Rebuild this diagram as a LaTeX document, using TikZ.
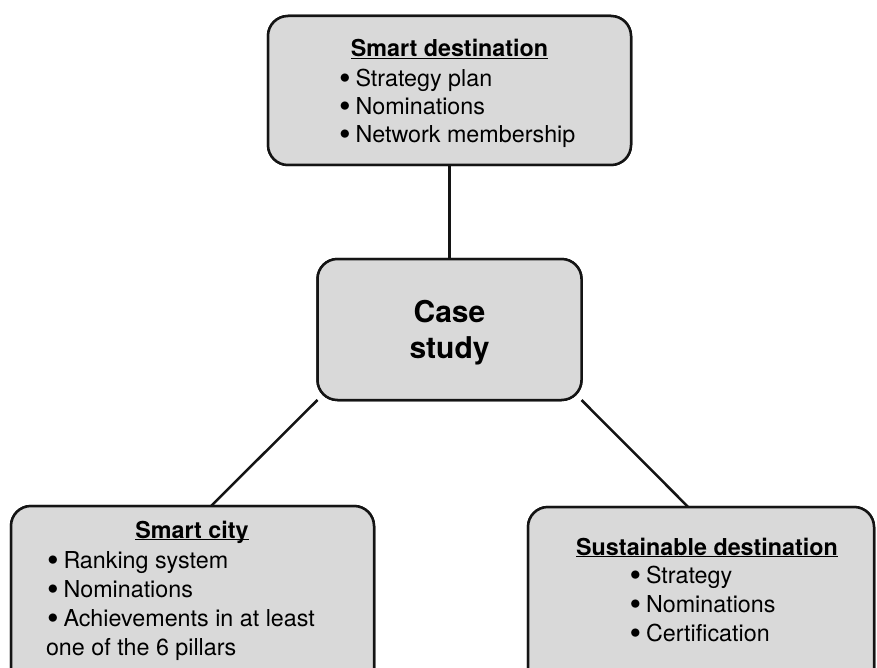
\documentclass[tikz,border=0pt]{standalone}
\usepackage{fontspec}
\usepackage{graphicx}
\setmainfont{TeX Gyre Heros}
\usetikzlibrary{calc}
\definecolor{boxgray}{HTML}{D9D9D9}
\definecolor{edgeblack}{HTML}{141414}
\newcommand\titleul[1]{\underline{\smash{#1}}}
\newcommand\bul{\makebox[16.5pt][l]{\smash{\raisebox{-3pt}{\scalebox{1.42}{•}}}}}
\begin{document}
\begin{tikzpicture}[x=1pt,y=-1pt,
  box/.style={draw=edgeblack, fill=boxgray, line width=2.5pt, rounded corners=20pt, inner sep=0pt, outer sep=0pt},
  conn/.style={line width=2.5pt, draw=edgeblack},
  txt/.style={inner sep=0pt, outer sep=0pt, font=\fontsize{23.3}{28}\selectfont},
  ttl/.style={txt, font=\fontsize{23.3}{28}\selectfont\bfseries, anchor=base},
  item/.style={txt, anchor=base west},
  big/.style={inner sep=0pt, outer sep=0pt, font=\fontsize{30}{36}\selectfont\bfseries, anchor=base}]
\useasboundingbox (0,0) rectangle (877,668);
\clip (0,0) rectangle (877,668);
% boxes (positioned)
\path node[box, minimum width=363pt, minimum height=149pt] (sd) at (449.5,90.5) {}
      node[box, minimum width=264pt, minimum height=141pt] (cs) at (449.5,329.5) {}
      node[box, minimum width=363pt, minimum height=190pt] (sc) at (192.5,601) {}
      node[box, minimum width=346pt, minimum height=190pt] (su) at (701,602) {};
% connectors
\draw[conn] (sd.south) -- (cs.north);
\draw[conn] (cs.south west) -- ($(sc.north west)!0.551!(sc.north east)$);
\draw[conn] (cs.south east) -- ($(su.north west)!0.463!(su.north east)$);
% redraw boxes on top of the connectors
\node[box, minimum width=363pt, minimum height=149pt] (sdb) at (sd.center) {};
\node[box, minimum width=264pt, minimum height=141pt] (csb) at (cs.center) {};
\node[box, minimum width=363pt, minimum height=190pt] (scb) at (sc.center) {};
\node[box, minimum width=346pt, minimum height=190pt] (sub) at (su.center) {};
% top box text
\node[ttl] (sdt) at (449.5,57) {\titleul{Smart destination}};
\node[item] (sd1) at (339,87) {\bul Strategy plan};
\node[item] (sd2) at (339,115) {\bul Nominations};
\node[item] (sd3) at (339,143) {\bul Network membership};
% center text
\node[big] (cs1) at (449.5,322) {Case};
\node[big] (cs2) at (449.5,358) {study};
% bottom-left text
\node[ttl] (sct) at (192,538) {\titleul{Smart city}};
\node[item] (sc1) at (47,568) {\bul Ranking system};
\node[item] (sc2) at (47,597) {\bul Nominations};
\node[item] (sc3) at (47,626) {\bul Achievements in at least};
\node[item] (sc4) at (46,655) {one of the 6 pillars};
% bottom-right text
\node[ttl] (sut) at (707,555) {\titleul{Sustainable destination}};
\node[item] (su1) at (629.5,583) {\bul Strategy};
\node[item] (su2) at (629.5,612) {\bul Nominations};
\node[item] (su3) at (629.5,641) {\bul Certification};
\end{tikzpicture}
\end{document}
